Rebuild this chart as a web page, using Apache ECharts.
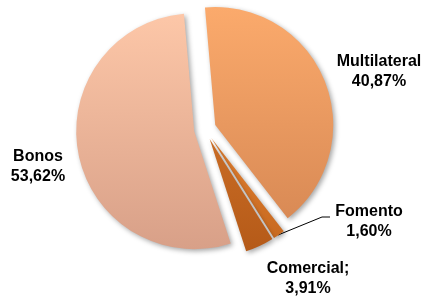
<!DOCTYPE html>
<html><head><meta charset="utf-8">
<script src="https://cdn.jsdelivr.net/npm/echarts@6/dist/echarts.min.js"></script>
<style>html,body{margin:0;padding:0;background:#fff}#c{width:427px;height:297px}</style>
</head><body><div id="c"></div>
<script>
const categories = ['Multilateral', 'Fomento', 'Comercial', 'Bonos'];
const values = [40.87, 1.60, 3.91, 53.62];
const labelTexts = ['Multilateral\n40,87%', 'Fomento\n1,60%', 'Comercial;\n3,91%', 'Bonos\n53,62%'];

const topColors = ['#FBAA6C', '#E07E30', '#C96C25', '#FDC7A8'];
const bottomColors = ['#D98A55', '#C86A20', '#B55A18', '#D8A088'];
const labelXY = [[379, 72], [369, 222], [308, 279], [38, 167]];

const chart = echarts.init(document.getElementById('c'));
chart.setOption({
  animation: false,
  graphic: labelTexts.map((t, i) => ({
    type: 'text',
    x: labelXY[i][0],
    y: labelXY[i][1],
    silent: true,
    style: {
      text: t,
      fontFamily: 'Liberation Sans, Arial, sans-serif',
      fontWeight: 'bold',
      fontSize: 16,
      lineHeight: 20,
      fill: '#000',
      align: 'center',
      verticalAlign: 'middle'
    }
  })).concat([{
    type: 'polyline',
    silent: true,
    shape: { points: [[278, 235], [322, 217], [330, 217]] },
    style: { stroke: '#000', lineWidth: 1, fill: null }
  }]),
  series: [{
    type: 'pie',
    center: [205, 129],
    radius: [0, 118],
    startAngle: 95,
    clockwise: true,
    selectedMode: 'multiple',
    selectedOffset: 11,
    emphasis: { disabled: true },
    label: { show: false },
    labelLine: { show: false },
    itemStyle: {
      shadowBlur: 5,
      shadowColor: 'rgba(0,0,0,0.35)',
      shadowOffsetX: 2,
      shadowOffsetY: 2
    },
    data: categories.map((name, i) => ({
      name: name,
      value: values[i],
      selected: true,
      itemStyle: {
        color: new echarts.graphic.LinearGradient(0, 0, 0, 1, [
          { offset: 0, color: topColors[i] },
          { offset: 1, color: bottomColors[i] }
        ])
      }
    }))
  }]
});
</script>
</body></html>
